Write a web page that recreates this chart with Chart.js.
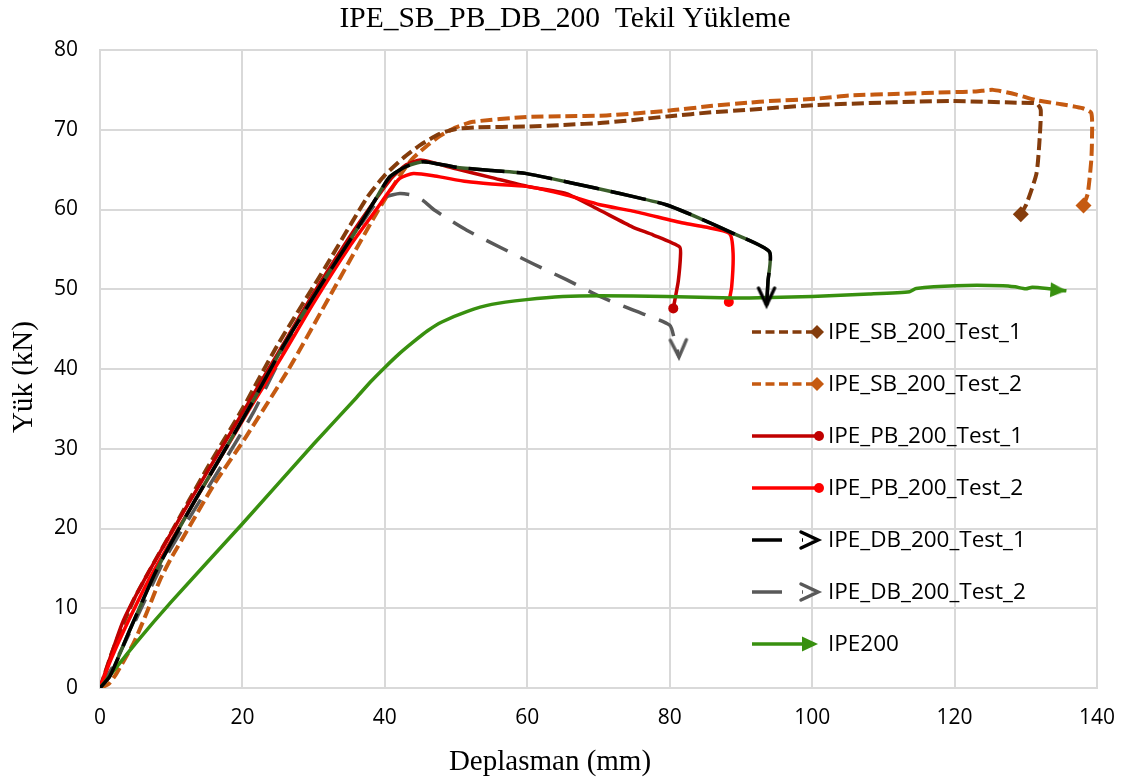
<!DOCTYPE html>
<html>
<head>
<meta charset="utf-8">
<title>IPE_SB_PB_DB_200 Tekil Yükleme</title>
<script src="https://cdn.jsdelivr.net/npm/chart.js@4.4.1/dist/chart.umd.min.js"></script>
<style>
  html, body { margin: 0; padding: 0; background: #fff; }
  #wrap { width: 1128px; height: 780px; }
</style>
</head>
<body>
<div id="wrap"><canvas id="loadChart" width="1128" height="780"></canvas></div>
<script>
// ==========================================
// Data
// ==========================================
const TITLE = 'IPE_SB_PB_DB_200  Tekil Yükleme';
const X_TITLE = 'Deplasman (mm)';
const Y_TITLE = 'Yük (kN)';
const X_TICKS = [0, 20, 40, 60, 80, 100, 120, 140];
const Y_TICKS = [0, 10, 20, 30, 40, 50, 60, 70, 80];

const seriesNames = [
  'IPE_SB_200_Test_1', 'IPE_SB_200_Test_2',
  'IPE_PB_200_Test_1', 'IPE_PB_200_Test_2',
  'IPE_DB_200_Test_1', 'IPE_DB_200_Test_2',
  'IPE200'
];

const sb1X = [0, 1.9, 4.7, 7.5, 10, 15, 20, 24.8, 31.8, 37.5, 40, 42.5, 45, 47.7, 50, 53, 59.9, 65, 71.1, 80, 86, 91.2, 94, 100.6, 109.9, 119.3, 128.7, 131.5, 132.1, 131.9, 131.5, 130.1, 129.3];
const sb1Y = [0, 5.0, 11, 15.6, 19.5, 27.5, 35, 42.8, 53, 61.5, 64.3, 66.4, 68.1, 69.5, 70.1, 70.3, 70.4, 70.6, 70.9, 71.7, 72.2, 72.5, 72.7, 73.1, 73.4, 73.6, 73.4, 73.3, 72.5, 68.3, 64.5, 60.7, 59.4];

const sb2X = [0, 1.2, 2.3, 4.7, 6.5, 8.4, 10, 12.6, 16, 20.5, 26.5, 32.5, 38.8, 42, 43.8, 45.8, 47.7, 50, 52.4, 59.9, 65, 71.1, 80, 86, 91.2, 94, 100.6, 105.3, 112.3, 119.3, 123, 125.4, 128.7, 131.5, 135, 138, 139.2, 139.3, 139.2, 138.7, 138.1];
const sb2Y = [0, 0.5, 1.8, 5.6, 9.3, 13.5, 16.3, 20.3, 25.5, 31.5, 40, 49.5, 59.5, 64.1, 66.3, 67.9, 69.2, 70.3, 71.0, 71.6, 71.7, 71.8, 72.4, 73, 73.4, 73.6, 73.9, 74.3, 74.5, 74.7, 74.8, 75, 74.4, 73.7, 73.2, 72.7, 72.1, 69, 66.2, 62, 60.5];

const pb1X = [0, 1.5, 3.3, 7, 12, 17, 21, 25, 30, 35, 38.5, 41, 43, 45, 50, 55, 60, 65.5, 70.2, 74.8, 77.7, 81.4, 81.5, 81.2, 80.9, 80.5];
const pb1Y = [0, 4, 8.5, 14.8, 22.5, 30, 36, 42, 49.5, 56.5, 61, 64, 65.6, 66.2, 65.1, 64, 62.9, 62, 59.9, 57.8, 56.8, 55.3, 54, 51, 49.5, 47.6];

const pb2X = [0, 1.5, 3.5, 7, 12, 17, 21, 25.5, 30, 35, 38.8, 40.7, 42.1, 44, 47, 51.5, 55, 59.9, 65.5, 70.2, 74.8, 81.9, 85, 88.4, 88.9, 88.7, 88.3];
const pb2Y = [0, 3.5, 7.5, 13.8, 21.5, 29, 35, 41.5, 48.3, 55.3, 60, 62.4, 63.9, 64.5, 64.2, 63.5, 63.2, 62.9, 61.8, 60.6, 59.8, 58.3, 57.8, 57, 54.5, 50.3, 48.4];

const db1X = [0, 1.4, 4.2, 7.95, 13, 17.3, 21.5, 25.7, 31, 36, 38.5, 40.7, 43, 45.4, 50, 55, 59.9, 66.4, 73, 79.5, 84.2, 88.9, 94, 93.8, 93.6];
const db1Y = [0, 1.5, 7.3, 14.8, 23, 29.5, 36, 42.8, 50.5, 57.4, 61, 64.1, 65.4, 66, 65.3, 64.9, 64.5, 63.3, 62, 60.6, 58.9, 57, 54.7, 51, 48.0];

const db2X = [0, 2, 5, 9, 13, 17.5, 21.5, 26.2, 31, 35, 38.4, 40.2, 42.1, 43.8, 45.4, 47, 51.5, 56.1, 60.8, 65.5, 70.2, 74.8, 80, 80.7, 81.3];
const db2Y = [0, 3, 8.5, 16, 22, 28.5, 34.5, 42.8, 50, 55.8, 60.4, 61.6, 62, 61.8, 61.1, 59.9, 57.4, 55.3, 53.2, 51.2, 49.1, 47.4, 45.5, 43.5, 41.5];

const ipeX = [0, 5, 10, 20, 30, 36, 38, 40, 42, 44, 46, 48, 51.5, 55, 59.9, 65, 70.2, 79.5, 88.9, 91.2, 100, 108, 113.7, 114.6, 120.2, 126.8, 128.5, 130, 130.9, 133, 135.7];
const ipeY = [0, 5.6, 10.8, 20.6, 30.6, 36.4, 38.4, 40.2, 41.9, 43.4, 44.8, 45.9, 47.2, 48.1, 48.7, 49.1, 49.2, 49.1, 48.9, 48.9, 49.1, 49.4, 49.7, 50.1, 50.45, 50.45, 50.3, 50.05, 50.25, 50.1, 49.8];

// ==========================================
// Markers
// ==========================================
function makeChevron(color) {
  const c = document.createElement('canvas');
  c.width = 44; c.height = 44;
  const g = c.getContext('2d');
  g.strokeStyle = color;
  g.lineWidth = 3.5;
  g.lineCap = 'round';
  g.lineJoin = 'miter';
  g.beginPath();
  g.moveTo(22 - 17, 22 - 8);
  g.lineTo(22, 22);
  g.lineTo(22 - 17, 22 + 8);
  g.stroke();
  return c;
}

function makeTriangle(color) {
  const c = document.createElement('canvas');
  c.width = 40; c.height = 40;
  const g = c.getContext('2d');
  g.fillStyle = color;
  g.beginPath();
  g.moveTo(20, 20);
  g.lineTo(20 - 16, 20 - 7.5);
  g.lineTo(20 - 16, 20 + 7.5);
  g.closePath();
  g.fill();
  return c;
}

const COLORS = {
  sb1: '#843C0C',
  sb2: '#C55A11',
  pb1: '#C00000',
  pb2: '#FF0000',
  db1: '#000000',
  db1Under: '#3B5E2B',
  db2: '#595959',
  ipe: '#38900F'
};

const arrowBlack = makeChevron(COLORS.db1);
const arrowGray = makeChevron(COLORS.db2);
const arrowGreen = makeTriangle(COLORS.ipe);

const toPoints = (xs, ys) => xs.map((x, i) => ({ x, y: ys[i] }));
const lastOnly = (r) => (ctx) => ctx.dataIndex === ctx.dataset.data.length - 1 ? r : 0;

function series(label, xs, ys, color, opts) {
  return Object.assign({
    label,
    data: toPoints(xs, ys),
    borderColor: color,
    backgroundColor: color,
    borderWidth: 3.5,
    pointRadius: lastOnly(6),
    pointHoverRadius: 0,
    pointBorderWidth: 0,
    tension: 0.2,
    fill: false
  }, opts);
}

const datasets = [
  series(seriesNames[4], db1X, db1Y, COLORS.db1, { borderDash: [36, 12], pointStyle: arrowBlack, pointRotation: 90, order: 0 }),
  series('_db1_under', db1X, db1Y, COLORS.db1Under, { pointRadius: 0, order: 1 }),
  series(seriesNames[6], ipeX, ipeY, COLORS.ipe, { pointStyle: arrowGreen, pointRotation: 4, order: 2 }),
  series(seriesNames[3], pb2X, pb2Y, COLORS.pb2, { pointStyle: 'circle', pointRadius: lastOnly(5), order: 3 }),
  series(seriesNames[2], pb1X, pb1Y, COLORS.pb1, { pointStyle: 'circle', pointRadius: lastOnly(5), order: 4 }),
  series(seriesNames[5], db2X, db2Y, COLORS.db2, { borderDash: [24, 14], pointStyle: arrowGray, pointRotation: 88, order: 5 }),
  series(seriesNames[0], sb1X, sb1Y, COLORS.sb1, { borderDash: [12, 5], borderWidth: 4, pointStyle: 'rectRot', pointRadius: lastOnly(8), order: 6 }),
  series(seriesNames[1], sb2X, sb2Y, COLORS.sb2, { borderDash: [12, 5], borderWidth: 4, pointStyle: 'rectRot', pointRadius: lastOnly(8), order: 7 })
];

// legend rows, in reference order
const legendRows = [
  { name: seriesNames[0], color: COLORS.sb1, dash: [9, 4.5], mark: 'diamond' },
  { name: seriesNames[1], color: COLORS.sb2, dash: [9, 4.5], mark: 'diamond' },
  { name: seriesNames[2], color: COLORS.pb1, dash: [], mark: 'circle' },
  { name: seriesNames[3], color: COLORS.pb2, dash: [], mark: 'circle' },
  { name: seriesNames[4], color: COLORS.db1, dash: [30, 20], mark: arrowBlack },
  { name: seriesNames[5], color: COLORS.db2, dash: [30, 20], mark: arrowGray },
  { name: seriesNames[6], color: COLORS.ipe, dash: [], mark: arrowGreen }
];

// ==========================================
// Titles + legend overlay
// ==========================================
const overlay = {
  id: 'overlay',
  afterDraw(chart) {
    const ctx = chart.ctx;
    ctx.save();
    ctx.fillStyle = '#000';
    ctx.textAlign = 'center';
    ctx.textBaseline = 'middle';
    ctx.font = '29.5px "Liberation Serif", "Times New Roman", serif';
    ctx.fillText(TITLE, 565, 19);
    ctx.font = '29px "Liberation Serif", "Times New Roman", serif';
    ctx.fillText(X_TITLE, 550, 762);
    ctx.translate(24, 377);
    ctx.rotate(-Math.PI / 2);
    ctx.fillText(Y_TITLE, 0, 0);
    ctx.restore();

    // legend
    const top = 332, step = 52, x0 = 752, xm = 817, xt = 828;
    ctx.save();
    ctx.font = '22.5px "Open Sans", sans-serif';
    ctx.textBaseline = 'middle';
    ctx.textAlign = 'left';
    legendRows.forEach((row, i) => {
      const y = top + i * step;
      const isImg = typeof row.mark !== 'string';
      ctx.strokeStyle = row.color;
      ctx.fillStyle = row.color;
      ctx.lineWidth = 3.5;
      ctx.setLineDash(row.dash);
      ctx.beginPath();
      ctx.moveTo(x0, y);
      ctx.lineTo(isImg ? xm - 14 : xm, y);
      ctx.stroke();
      ctx.setLineDash([]);
      if (row.mark === 'diamond') {
        ctx.beginPath();
        ctx.moveTo(xm, y - 7); ctx.lineTo(xm + 7, y); ctx.lineTo(xm, y + 7); ctx.lineTo(xm - 7, y);
        ctx.closePath(); ctx.fill();
      } else if (row.mark === 'circle') {
        ctx.beginPath();
        ctx.arc(xm + 2, y, 5, 0, Math.PI * 2);
        ctx.fill();
      } else {
        ctx.drawImage(row.mark, xm + 1 - row.mark.width / 2, y - row.mark.height / 2);
      }
      ctx.fillStyle = '#000';
      ctx.fillText(row.name, xt, y + 1);
    });
    ctx.restore();
  }
};

// ==========================================
// Chart
// ==========================================
const tickFont = { family: '"Open Sans", sans-serif', size: 21 };
const gridStyle = { color: '#d9d9d9', lineWidth: 2, drawTicks: false };

new Chart(document.getElementById('loadChart'), {
  type: 'line',
  data: { datasets },
  options: {
    responsive: false,
    animation: false,
    events: [],
    layout: { padding: { top: 50, right: 31, left: 0, bottom: 0 } },
    plugins: {
      legend: { display: false },
      title: { display: false },
      tooltip: { enabled: false }
    },
    scales: {
      x: {
        type: 'linear',
        min: X_TICKS[0],
        max: X_TICKS[X_TICKS.length - 1],
        afterBuildTicks: (s) => { s.ticks = X_TICKS.map(v => ({ value: v })); },
        ticks: { font: tickFont, color: '#000', padding: 17, maxRotation: 0, autoSkip: false },
        grid: gridStyle,
        border: { color: '#d9d9d9', width: 2 },
        afterFit: (s) => { s.height = 92; s.paddingRight = 20; s.paddingLeft = 0; }
      },
      y: {
        type: 'linear',
        min: Y_TICKS[0],
        max: Y_TICKS[Y_TICKS.length - 1],
        afterBuildTicks: (s) => { s.ticks = Y_TICKS.map(v => ({ value: v })); },
        ticks: { font: tickFont, color: '#000', padding: 22, autoSkip: false },
        grid: gridStyle,
        border: { color: '#d9d9d9', width: 2 },
        afterFit: (s) => { s.width = 100; }
      }
    }
  },
  plugins: [overlay]
});
</script>
</body>
</html>
